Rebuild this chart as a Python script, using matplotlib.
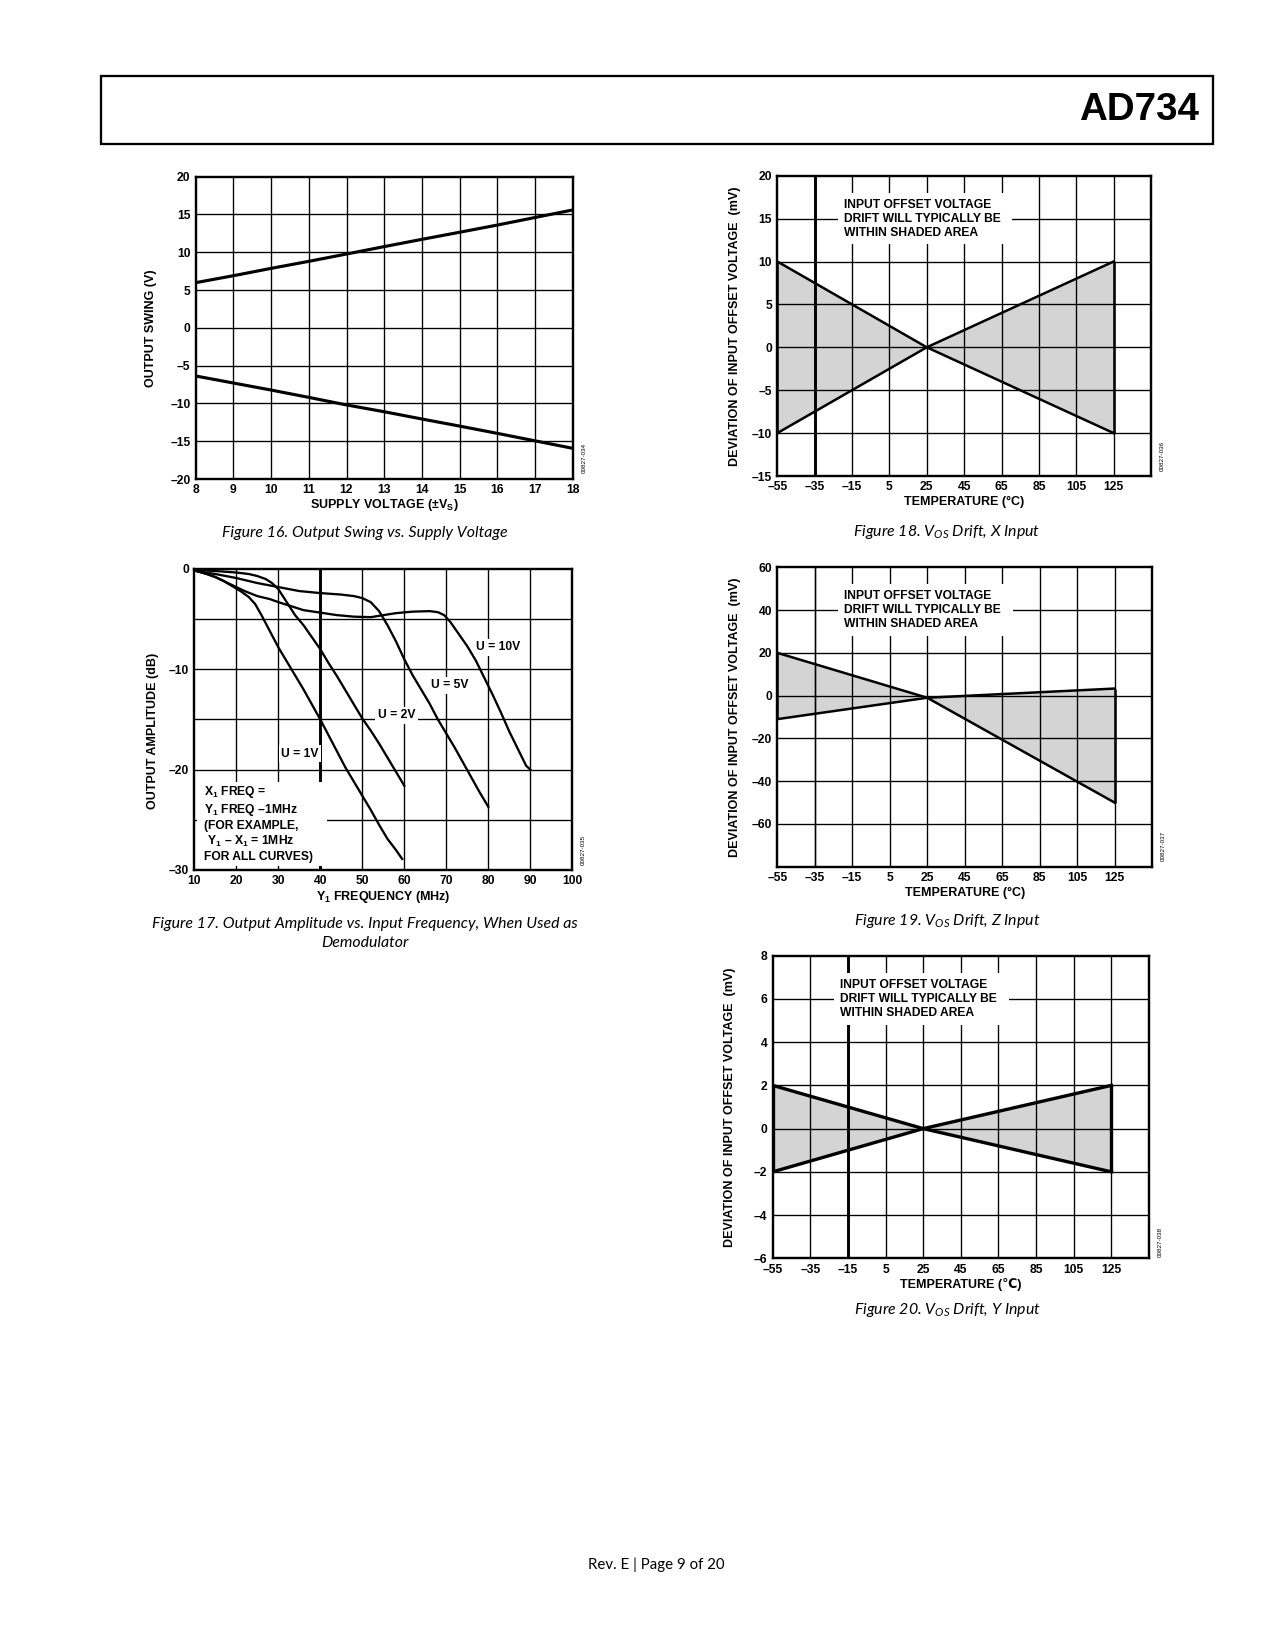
import matplotlib
matplotlib.use("Agg")
import matplotlib.pyplot as plt
from matplotlib.patches import Rectangle

plt.rcParams['font.family'] = ['Liberation Sans', 'DejaVu Sans']
plt.rcParams['mathtext.fontset'] = 'custom'
plt.rcParams['mathtext.rm'] = 'Liberation Sans:bold'
plt.rcParams['mathtext.bf'] = 'Liberation Sans:bold'
plt.rcParams['mathtext.it'] = 'Lato:italic'
plt.rcParams['mathtext.default'] = 'rm'

W, H, DPI = 1275, 1650, 150

# ---------------- data ----------------
# Figure 16: output swing vs supply voltage
supply_v = [8, 9, 10, 11, 12, 13, 14, 15, 16, 17, 18]
swing_pos = [5.98, 6.9, 7.87, 8.8, 9.77, 10.75, 11.71, 12.65, 13.6, 14.6, 15.6]
swing_neg = [-6.37, -7.3, -8.23, -9.2, -10.2, -11.1, -12.06, -13.0, -13.96, -14.95, -15.94]
f16_xticks = [8, 9, 10, 11, 12, 13, 14, 15, 16, 17, 18]
f16_yticks = [-20, -15, -10, -5, 0, 5, 10, 15, 20]

# Figure 17: output amplitude vs Y1 frequency
freq_u1 = [10.5, 13, 15, 17, 19, 21, 23, 24.5, 26, 28, 30, 32, 34, 36, 38, 40,
           42, 44, 46, 48, 50, 52, 54, 56, 58, 59, 59.5]
amp_u1 = [-0.2, -0.5, -0.8, -1.2, -1.7, -2.2, -2.8, -3.5, -4.6, -6.2, -7.8, -9.2, -10.6, -12.0, -13.5, -15.0,
          -16.6, -18.2, -19.8, -21.2, -22.6, -24.0, -25.5, -26.9, -28.0, -28.6, -28.9]
freq_u2 = [10.5, 15, 20, 23, 25, 27, 28.5, 30, 32, 34, 36, 38, 40, 42, 44, 46, 48, 50,
           52, 54, 56, 58, 60]
amp_u2 = [-0.1, -0.2, -0.35, -0.5, -0.7, -1.0, -1.4, -2.0, -3.3, -4.6, -5.6, -6.8, -8.0, -9.4, -10.7, -12.1, -13.5, -14.9,
          -16.1, -17.4, -18.8, -20.2, -21.6]
freq_u5 = [10.5, 15, 20, 25, 30, 35, 40, 45, 48, 50, 52, 54, 56, 58, 60, 62, 64, 66,
           68, 70, 72, 74, 76, 78, 80]
amp_u5 = [-0.2, -0.5, -0.9, -1.4, -1.8, -2.2, -2.4, -2.55, -2.7, -2.9, -3.3, -4.2, -5.6, -7.2, -9.0, -10.6, -12.0, -13.4,
          -15.0, -16.4, -17.8, -19.3, -20.8, -22.3, -23.7]
freq_u10 = [10.5, 13, 15, 18, 20, 22, 25, 28, 30, 33, 36, 40, 44, 48, 52, 55, 58, 62, 66,
            68, 69.5, 71, 73, 75, 77, 79, 81, 83, 85, 87, 89, 90]
amp_u10 = [-0.2, -0.5, -0.8, -1.4, -1.8, -2.2, -2.7, -3.0, -3.3, -3.7, -4.1, -4.35, -4.6, -4.75, -4.8, -4.6, -4.4, -4.25, -4.2,
           -4.3, -4.6, -5.3, -6.5, -7.7, -9.1, -10.8, -12.5, -14.3, -16.2, -17.9, -19.6, -20.0]
f17_xticks = [10, 20, 30, 40, 50, 60, 70, 80, 90, 100]
f17_yticks = [-30, -20, -10, 0]
f17_ygrid = [-25, -20, -15, -10, -5]

# Figures 18-20: VOS drift envelopes
temps = [-55, 25, 125]
x_edge_a = [10, 0, -10]
x_edge_b = [-10, 0, 10]
z_edge_a = [20, -1, -50]
z_edge_b = [-11, -1, 3.3]
y_edge_a = [2, 0, -2]
y_edge_b = [-2, 0, 2]
temp_ticks = [-55, -35, -15, 5, 25, 45, 65, 85, 105, 125]
x_yticks = [-15, -10, -5, 0, 5, 10, 15, 20]
z_yticks = [-60, -40, -20, 0, 20, 40, 60]
z_ygrid = [-60, -40, -20, 0, 20, 40]
y_yticks = [-6, -4, -2, 0, 2, 4, 6, 8]

BOX_TEXT = "INPUT OFFSET VOLTAGE\nDRIFT WILL TYPICALLY BE\nWITHIN SHADED AREA"
VLABEL = "DEVIATION OF INPUT OFFSET VOLTAGE  (mV)"

TICK_FS = 5.8
LAB_FS = 6.0
SHADE = '#d4d4d4'


def dash(v):
    return str(v).replace('-', '\u2013')


def add_axes(fig, l, t, r, b):
    return fig.add_axes([l / W, 1 - b / H, (r - l) / W, (b - t) / H])


def setup(ax, xlim, ylim, xticks, yticks, xgrid, ygrid):
    ax.set_xlim(*xlim)
    ax.set_ylim(*ylim)
    ax.set_xticks(xticks)
    ax.set_xticklabels([dash(v) for v in xticks])
    ax.set_yticks(yticks)
    ax.set_yticklabels([dash(v) for v in yticks])
    ax.tick_params(length=0, labelsize=TICK_FS, pad=2.5)
    for lab in ax.get_xticklabels() + ax.get_yticklabels():
        lab.set_fontweight('bold')
    ax.vlines(xgrid, ylim[0], ylim[1], color='k', lw=0.65, zorder=2)
    ax.hlines(ygrid, xlim[0], xlim[1], color='k', lw=0.65, zorder=2)
    for s in ax.spines.values():
        s.set_linewidth(1.15)
        s.set_zorder(6)


def labels(ax, xl, yl, xpos, ypos, ycen=0.5):
    ax.text(0.5, xpos, xl, transform=ax.transAxes, ha='center', va='center',
            fontsize=LAB_FS, fontweight='bold')
    ax.text(ypos, ycen, yl, transform=ax.transAxes, ha='center', va='center',
            rotation=90, fontsize=LAB_FS, fontweight='bold')


def code(ax, txt, y=0.065):
    ax.text(1.03, y, txt, transform=ax.transAxes, ha='center', va='center',
            rotation=90, fontsize=3.0)


def drift(ax, a, b, ylim, yticks, ygrid, bold_x, lw, tlabel, code_txt, ycode):
    setup(ax, (-55, 145), ylim, temp_ticks, yticks, temp_ticks[1:], ygrid)
    ax.axvline(bold_x, color='k', lw=1.4, zorder=2)
    ax.fill_between(temps, a, b, color=SHADE, lw=0, zorder=1)
    ax.plot(temps, a, color='k', lw=lw, zorder=4)
    ax.plot(temps, b, color='k', lw=lw, zorder=4)
    ax.vlines([temps[0], temps[-1]], [b[0], b[-1]], [a[0], a[-1]], color='k', lw=lw, zorder=4)
    ax.add_patch(Rectangle((0.162, 0.772), 0.466, 0.172, transform=ax.transAxes,
                           fc='white', ec='none', zorder=3))
    ax.text(0.178, 0.856, BOX_TEXT, transform=ax.transAxes, ha='left', va='center',
            fontsize=TICK_FS, fontweight='bold', linespacing=1.22, zorder=5)
    labels(ax, tlabel, VLABEL, -0.088, -0.113)
    code(ax, code_txt, ycode)


fig = plt.figure(figsize=(W / DPI, H / DPI), dpi=DPI)

# header
fig.patches.append(Rectangle((101 / W, 1 - 144 / H), 1112 / W, 68 / H, transform=fig.transFigure,
                             fill=False, ec='k', lw=1.1))
fig.text(1199 / W, 1 - 110 / H, "AD734", ha='right', va='center', fontsize=18.5,
         fontweight='bold', family=['Liberation Sans Narrow', 'Liberation Sans', 'DejaVu Sans'])

cap_font = dict(ha='center', va='center', fontsize=7.6, fontstyle='italic',
                family=['Lato', 'DejaVu Sans'])

# ---- Figure 16
ax = add_axes(fig, 195.7, 176.7, 572.7, 479)
setup(ax, (8, 18), (-20, 20), f16_xticks, f16_yticks, f16_xticks[1:-1], f16_yticks[1:-1])
ax.plot(supply_v, swing_pos, color='k', lw=1.5, zorder=4)
ax.plot(supply_v, swing_neg, color='k', lw=1.5, zorder=4)
labels(ax, "SUPPLY VOLTAGE (\u00b1V$_\\mathrm{S}$)", "OUTPUT SWING (V)", -0.087, -0.119)
code(ax, "00827-034", 0.07)
fig.text(365 / W, 1 - 533 / H, "Figure 16. Output Swing vs. Supply Voltage", **cap_font)

# ---- Figure 17
ax = add_axes(fig, 194.3, 569, 572.3, 870)
setup(ax, (10, 100), (-30, 0), f17_xticks, f17_yticks, f17_xticks[1:-1], f17_ygrid)
ax.axvline(40, color='k', lw=1.4, zorder=2)
for fx, am in [(freq_u1, amp_u1), (freq_u2, amp_u2), (freq_u5, amp_u5), (freq_u10, amp_u10)]:
    ax.plot(fx, am, color='k', lw=1.1, zorder=4)
wb = dict(fc='white', ec='none', pad=1.2)
for tx, x, y in [("U = 10V", 82.4, -7.8), ("U = 5V", 70.9, -11.6),
                 ("U = 2V", 58.2, -14.6), ("U = 1V", 35.2, -18.4)]:
    ax.text(x, y, tx, ha='center', va='center', fontsize=TICK_FS, fontweight='bold',
            bbox=wb, zorder=5)
ax.add_patch(Rectangle((10.6, -29.6), 30.9, 8.4, fc='white', ec='none', zorder=3))
ax.text(12.3, -25.35, "X$_1$ FREQ =\nY$_1$ FREQ \u20131MHz\n(FOR EXAMPLE,\n Y$_1$ \u2013 X$_1$ = 1MHz\nFOR ALL CURVES)",
        ha='left', va='center', fontsize=TICK_FS, fontweight='bold', linespacing=1.2, zorder=5)
labels(ax, "Y$_1$ FREQUENCY (MHz)", "OUTPUT AMPLITUDE (dB)", -0.09, -0.108, ycen=0.462)
code(ax, "00827-035", 0.067)
fig.text(365 / W, 1 - 923.6 / H, "Figure 17. Output Amplitude vs. Input Frequency, When Used as", **cap_font)
fig.text(365 / W, 1 - 942.6 / H, "Demodulator", **cap_font)

# ---- Figure 18
ax = add_axes(fig, 777.3, 175.7, 1151, 476)
drift(ax, x_edge_a, x_edge_b, (-15, 20), x_yticks, x_yticks[1:-1], -35, 1.2,
      "TEMPERATURE (\u00b0C)", "00827-036", 0.067)
fig.text(947 / W, 1 - 532 / H, "Figure 18. $\\mathit{V_{OS}}$ Drift, X Input", **cap_font)

# ---- Figure 19
ax = add_axes(fig, 777.3, 567.3, 1152, 866.7)
drift(ax, z_edge_a, z_edge_b, (-80, 60), z_yticks, z_ygrid, -35, 1.2,
      "TEMPERATURE (\u00b0C)", "00827-037", 0.068)
ax.lines[0].set_linewidth(0.65)
fig.text(947 / W, 1 - 921.5 / H, "Figure 19. $\\mathit{V_{OS}}$ Drift, Z Input", **cap_font)

# ---- Figure 20
ax = add_axes(fig, 772.7, 955.7, 1149, 1258.3)
drift(ax, y_edge_a, y_edge_b, (-6, 8), y_yticks, y_yticks[1:-1], -15, 1.6,
      "TEMPERATURE (\u2103)", "00827-038", 0.055)
fig.text(947 / W, 1 - 1309.7 / H, "Figure 20. $\\mathit{V_{OS}}$ Drift, Y Input", **cap_font)

# footer
fig.text(656.5 / W, 1 - 1564.3 / H, "Rev. E | Page 9 of 20", ha='center', va='center',
         fontsize=7.2, family=['Lato', 'DejaVu Sans'])

fig.savefig("out.png", dpi=DPI)
